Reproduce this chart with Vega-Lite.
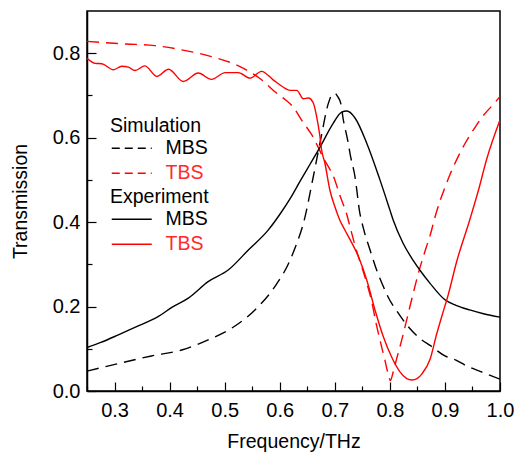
{
  "$schema": "https://vega.github.io/schema/vega-lite/v6.json",
  "width": 413,
  "height": 380,
  "autosize": "none",
  "padding": {"left": 87, "top": 11, "right": 14, "bottom": 61},
  "config": {
    "font": "Liberation Sans",
    "view": {"stroke": "black", "strokeWidth": 1.5},
    "axis": {"labelFont": "Liberation Sans", "titleFont": "Liberation Sans", "labelFontSize": 20, "titleFontSize": 19.5, "labelColor": "black", "titleColor": "black", "titleFontWeight": "normal", "domainColor": "black", "domainWidth": 1.5, "tickColor": "black", "tickWidth": 1.2, "grid": false},
    "legend": {"labelFont": "Liberation Sans", "titleFont": "Liberation Sans", "labelFontSize": 19.5, "titleFontSize": 19.5, "titleFontWeight": "normal", "titleColor": "black"}
  },
  "datasets": {
    "sim": [
      {"freq": 0.25, "T": 0.047, "series": "MBS"},
      {"freq": 0.307, "T": 0.065, "series": "MBS"},
      {"freq": 0.367, "T": 0.083, "series": "MBS"},
      {"freq": 0.422, "T": 0.097, "series": "MBS"},
      {"freq": 0.47, "T": 0.121, "series": "MBS"},
      {"freq": 0.513, "T": 0.149, "series": "MBS"},
      {"freq": 0.555, "T": 0.192, "series": "MBS"},
      {"freq": 0.591, "T": 0.247, "series": "MBS"},
      {"freq": 0.616, "T": 0.302, "series": "MBS"},
      {"freq": 0.631, "T": 0.35, "series": "MBS"},
      {"freq": 0.643, "T": 0.397, "series": "MBS"},
      {"freq": 0.661, "T": 0.508, "series": "MBS"},
      {"freq": 0.675, "T": 0.6, "series": "MBS"},
      {"freq": 0.688, "T": 0.68, "series": "MBS"},
      {"freq": 0.695, "T": 0.702, "series": "MBS"},
      {"freq": 0.70, "T": 0.705, "series": "MBS"},
      {"freq": 0.705, "T": 0.698, "series": "MBS"},
      {"freq": 0.711, "T": 0.68, "series": "MBS"},
      {"freq": 0.715, "T": 0.646, "series": "MBS"},
      {"freq": 0.724, "T": 0.59, "series": "MBS"},
      {"freq": 0.728, "T": 0.56, "series": "MBS"},
      {"freq": 0.737, "T": 0.505, "series": "MBS"},
      {"freq": 0.745, "T": 0.425, "series": "MBS"},
      {"freq": 0.752, "T": 0.385, "series": "MBS"},
      {"freq": 0.765, "T": 0.33, "series": "MBS"},
      {"freq": 0.775, "T": 0.29, "series": "MBS"},
      {"freq": 0.787, "T": 0.251, "series": "MBS"},
      {"freq": 0.797, "T": 0.222, "series": "MBS"},
      {"freq": 0.815, "T": 0.185, "series": "MBS"},
      {"freq": 0.831, "T": 0.156, "series": "MBS"},
      {"freq": 0.858, "T": 0.121, "series": "MBS"},
      {"freq": 0.873, "T": 0.108, "series": "MBS"},
      {"freq": 0.90, "T": 0.083, "series": "MBS"},
      {"freq": 0.92, "T": 0.073, "series": "MBS"},
      {"freq": 0.94, "T": 0.059, "series": "MBS"},
      {"freq": 0.965, "T": 0.046, "series": "MBS"},
      {"freq": 1.0, "T": 0.028, "series": "MBS"},
      {"freq": 0.25, "T": 0.828, "series": "TBS"},
      {"freq": 0.32, "T": 0.822, "series": "TBS"},
      {"freq": 0.373, "T": 0.818, "series": "TBS"},
      {"freq": 0.422, "T": 0.808, "series": "TBS"},
      {"freq": 0.476, "T": 0.792, "series": "TBS"},
      {"freq": 0.525, "T": 0.77, "series": "TBS"},
      {"freq": 0.567, "T": 0.737, "series": "TBS"},
      {"freq": 0.59, "T": 0.71, "series": "TBS"},
      {"freq": 0.61, "T": 0.69, "series": "TBS"},
      {"freq": 0.624, "T": 0.673, "series": "TBS"},
      {"freq": 0.642, "T": 0.637, "series": "TBS"},
      {"freq": 0.658, "T": 0.607, "series": "TBS"},
      {"freq": 0.68, "T": 0.55, "series": "TBS"},
      {"freq": 0.70, "T": 0.5, "series": "TBS"},
      {"freq": 0.709, "T": 0.464, "series": "TBS"},
      {"freq": 0.722, "T": 0.417, "series": "TBS"},
      {"freq": 0.729, "T": 0.382, "series": "TBS"},
      {"freq": 0.74, "T": 0.33, "series": "TBS"},
      {"freq": 0.749, "T": 0.294, "series": "TBS"},
      {"freq": 0.758, "T": 0.256, "series": "TBS"},
      {"freq": 0.767, "T": 0.212, "series": "TBS"},
      {"freq": 0.775, "T": 0.16, "series": "TBS"},
      {"freq": 0.782, "T": 0.121, "series": "TBS"},
      {"freq": 0.791, "T": 0.073, "series": "TBS"},
      {"freq": 0.797, "T": 0.04, "series": "TBS"},
      {"freq": 0.801, "T": 0.025, "series": "TBS"},
      {"freq": 0.806, "T": 0.045, "series": "TBS"},
      {"freq": 0.812, "T": 0.075, "series": "TBS"},
      {"freq": 0.821, "T": 0.118, "series": "TBS"},
      {"freq": 0.829, "T": 0.16, "series": "TBS"},
      {"freq": 0.837, "T": 0.203, "series": "TBS"},
      {"freq": 0.846, "T": 0.25, "series": "TBS"},
      {"freq": 0.852, "T": 0.28, "series": "TBS"},
      {"freq": 0.866, "T": 0.34, "series": "TBS"},
      {"freq": 0.873, "T": 0.368, "series": "TBS"},
      {"freq": 0.882, "T": 0.412, "series": "TBS"},
      {"freq": 0.891, "T": 0.45, "series": "TBS"},
      {"freq": 0.90, "T": 0.482, "series": "TBS"},
      {"freq": 0.909, "T": 0.512, "series": "TBS"},
      {"freq": 0.924, "T": 0.555, "series": "TBS"},
      {"freq": 0.936, "T": 0.585, "series": "TBS"},
      {"freq": 0.955, "T": 0.625, "series": "TBS"},
      {"freq": 0.967, "T": 0.648, "series": "TBS"},
      {"freq": 0.985, "T": 0.675, "series": "TBS"},
      {"freq": 1.0, "T": 0.697, "series": "TBS"}
    ],
    "exp": [
      {"freq": 0.25, "T": 0.103, "series": "MBS"},
      {"freq": 0.275, "T": 0.115, "series": "MBS"},
      {"freq": 0.307, "T": 0.133, "series": "MBS"},
      {"freq": 0.343, "T": 0.154, "series": "MBS"},
      {"freq": 0.379, "T": 0.176, "series": "MBS"},
      {"freq": 0.404, "T": 0.198, "series": "MBS"},
      {"freq": 0.434, "T": 0.22, "series": "MBS"},
      {"freq": 0.47, "T": 0.259, "series": "MBS"},
      {"freq": 0.507, "T": 0.287, "series": "MBS"},
      {"freq": 0.543, "T": 0.334, "series": "MBS"},
      {"freq": 0.579, "T": 0.381, "series": "MBS"},
      {"freq": 0.60, "T": 0.418, "series": "MBS"},
      {"freq": 0.62, "T": 0.458, "series": "MBS"},
      {"freq": 0.637, "T": 0.497, "series": "MBS"},
      {"freq": 0.655, "T": 0.537, "series": "MBS"},
      {"freq": 0.673, "T": 0.577, "series": "MBS"},
      {"freq": 0.697, "T": 0.634, "series": "MBS"},
      {"freq": 0.712, "T": 0.66, "series": "MBS"},
      {"freq": 0.722, "T": 0.663, "series": "MBS"},
      {"freq": 0.737, "T": 0.646, "series": "MBS"},
      {"freq": 0.758, "T": 0.587, "series": "MBS"},
      {"freq": 0.782, "T": 0.5, "series": "MBS"},
      {"freq": 0.80, "T": 0.429, "series": "MBS"},
      {"freq": 0.806, "T": 0.405, "series": "MBS"},
      {"freq": 0.824, "T": 0.35, "series": "MBS"},
      {"freq": 0.842, "T": 0.31, "series": "MBS"},
      {"freq": 0.858, "T": 0.28, "series": "MBS"},
      {"freq": 0.873, "T": 0.255, "series": "MBS"},
      {"freq": 0.90, "T": 0.216, "series": "MBS"},
      {"freq": 0.92, "T": 0.203, "series": "MBS"},
      {"freq": 0.945, "T": 0.192, "series": "MBS"},
      {"freq": 0.97, "T": 0.183, "series": "MBS"},
      {"freq": 1.0, "T": 0.175, "series": "MBS"},
      {"freq": 0.25, "T": 0.788, "series": "TBS"},
      {"freq": 0.265, "T": 0.776, "series": "TBS"},
      {"freq": 0.277, "T": 0.775, "series": "TBS"},
      {"freq": 0.298, "T": 0.761, "series": "TBS"},
      {"freq": 0.313, "T": 0.769, "series": "TBS"},
      {"freq": 0.325, "T": 0.767, "series": "TBS"},
      {"freq": 0.337, "T": 0.759, "series": "TBS"},
      {"freq": 0.355, "T": 0.77, "series": "TBS"},
      {"freq": 0.377, "T": 0.745, "series": "TBS"},
      {"freq": 0.398, "T": 0.762, "series": "TBS"},
      {"freq": 0.425, "T": 0.733, "series": "TBS"},
      {"freq": 0.452, "T": 0.753, "series": "TBS"},
      {"freq": 0.476, "T": 0.738, "series": "TBS"},
      {"freq": 0.501, "T": 0.754, "series": "TBS"},
      {"freq": 0.525, "T": 0.754, "series": "TBS"},
      {"freq": 0.546, "T": 0.741, "series": "TBS"},
      {"freq": 0.567, "T": 0.757, "series": "TBS"},
      {"freq": 0.588, "T": 0.737, "series": "TBS"},
      {"freq": 0.606, "T": 0.72, "series": "TBS"},
      {"freq": 0.619, "T": 0.712, "series": "TBS"},
      {"freq": 0.631, "T": 0.712, "series": "TBS"},
      {"freq": 0.643, "T": 0.692, "series": "TBS"},
      {"freq": 0.652, "T": 0.694, "series": "TBS"},
      {"freq": 0.661, "T": 0.682, "series": "TBS"},
      {"freq": 0.667, "T": 0.65, "series": "TBS"},
      {"freq": 0.673, "T": 0.603, "series": "TBS"},
      {"freq": 0.676, "T": 0.571, "series": "TBS"},
      {"freq": 0.682, "T": 0.54, "series": "TBS"},
      {"freq": 0.691, "T": 0.476, "series": "TBS"},
      {"freq": 0.70, "T": 0.437, "series": "TBS"},
      {"freq": 0.709, "T": 0.405, "series": "TBS"},
      {"freq": 0.718, "T": 0.382, "series": "TBS"},
      {"freq": 0.728, "T": 0.358, "series": "TBS"},
      {"freq": 0.743, "T": 0.318, "series": "TBS"},
      {"freq": 0.758, "T": 0.263, "series": "TBS"},
      {"freq": 0.773, "T": 0.192, "series": "TBS"},
      {"freq": 0.788, "T": 0.129, "series": "TBS"},
      {"freq": 0.803, "T": 0.081, "series": "TBS"},
      {"freq": 0.818, "T": 0.046, "series": "TBS"},
      {"freq": 0.83, "T": 0.03, "series": "TBS"},
      {"freq": 0.84, "T": 0.026, "series": "TBS"},
      {"freq": 0.85, "T": 0.03, "series": "TBS"},
      {"freq": 0.858, "T": 0.04, "series": "TBS"},
      {"freq": 0.873, "T": 0.075, "series": "TBS"},
      {"freq": 0.885, "T": 0.135, "series": "TBS"},
      {"freq": 0.895, "T": 0.18, "series": "TBS"},
      {"freq": 0.906, "T": 0.228, "series": "TBS"},
      {"freq": 0.921, "T": 0.305, "series": "TBS"},
      {"freq": 0.945, "T": 0.405, "series": "TBS"},
      {"freq": 0.961, "T": 0.476, "series": "TBS"},
      {"freq": 0.976, "T": 0.55, "series": "TBS"},
      {"freq": 1.0, "T": 0.642, "series": "TBS"}
    ]
  },
  "layer": [
    {
      "data": {"name": "sim"},
      "mark": {"type": "line", "strokeWidth": 1.4, "strokeDash": [12, 7], "clip": true, "interpolate": "monotone"},
      "encoding": {
        "x": {"field": "freq", "type": "quantitative", "scale": {"domain": [0.25, 1.0], "nice": false, "zero": false},
          "axis": {"orient": "bottom", "title": "Frequency/THz", "values": [0.3, 0.4, 0.5, 0.6, 0.7, 0.8, 0.9, 1.0], "format": ".1f", "tickSize": -9, "labelPadding": 18, "titlePadding": 12, "labelFlush": false}},
        "y": {"field": "T", "type": "quantitative", "scale": {"domain": [0, 0.9], "nice": false, "zero": false},
          "axis": {"orient": "left", "title": "Transmission", "values": [0, 0.2, 0.4, 0.6, 0.8], "format": ".1f", "tickSize": -9, "labelPadding": 16, "titlePadding": 22}},
        "color": {"field": "series", "type": "nominal", "scale": {"range": ["black", "red"]},
          "legend": {"orient": "none", "legendX": 23, "legendY": 106, "title": "Simulation", "symbolType": "M-1,0H4", "symbolSize": 256, "symbolDash": [8, 5], "symbolStrokeWidth": 1.4, "labelOffset": 36, "rowPadding": 4, "titlePadding": 2, "padding": 0,
            "encode": {"labels": {"update": {"fill": {"signal": "datum.value === 'TBS' ? '#ff2a2a' : '#000000'"}}}}}}
      }
    },
    {
      "data": {"name": "exp"},
      "mark": {"type": "line", "strokeWidth": 1.4, "clip": true, "interpolate": "monotone"},
      "encoding": {
        "x": {"field": "freq", "type": "quantitative",
          "axis": {"orient": "bottom", "title": null, "labels": false, "domain": false, "values": [0.25, 0.35, 0.45, 0.55, 0.65, 0.75, 0.85, 0.95], "tickSize": -5}},
        "y": {"field": "T", "type": "quantitative",
          "axis": {"orient": "left", "title": null, "labels": false, "domain": false, "values": [0.1, 0.3, 0.5, 0.7], "tickSize": -5}},
        "stroke": {"field": "series", "type": "nominal", "scale": {"range": ["black", "red"]},
          "legend": {"orient": "none", "legendX": 23, "legendY": 177, "title": "Experiment", "symbolType": "M-1,0H4", "symbolSize": 256, "symbolStrokeWidth": 1.4, "labelOffset": 36, "rowPadding": 4, "titlePadding": 2, "padding": 0,
            "encode": {"labels": {"update": {"fill": {"signal": "datum.value === 'TBS' ? '#ff2a2a' : '#000000'"}}}}}}
      }
    }
  ],
  "resolve": {"axis": {"x": "independent", "y": "independent"}}
}
